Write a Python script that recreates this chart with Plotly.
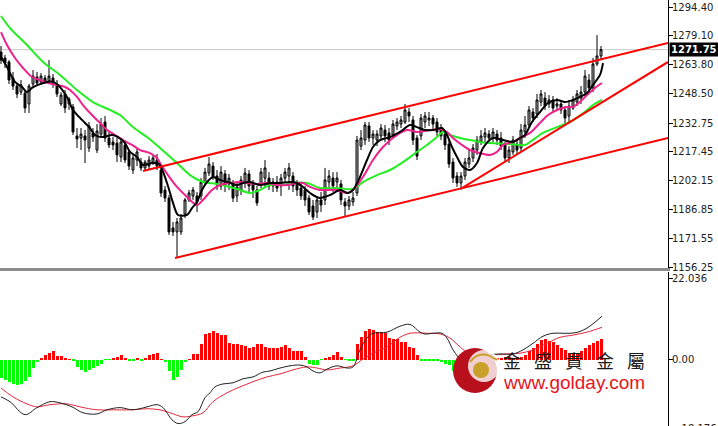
import plotly.graph_objects as go

# ---------------- price candles (index 0..150) ----------------
open_ = [1270.5,1267.3,1265.2,1256.7,1252.4,1249.2,1248.7,1242.9,1253.5,1257.2,
         1254.6,1256.7,1255.1,1256.7,1253.5,1242.9,1248.2,1242.9,1241.3,1225.9,
         1224.8,1225.9,1219.5,1227.5,1218.4,1226.9,1233.3,1224.8,1222.7,1222.1,
         1214.7,1221.1,1217.4,1207.8,1213.1,1212.0,1208.9,1209.9,1212.0,1213.1,
         1207.8,1197.2,1192.9,1177.0,1174.9,1174.9,1184.4,1191.9,1194.0,1194.0,
         1194.0,1200.9,1206.2,1209.9,1204.6,1199.3,1205.7,1200.4,1200.4,1194.0,
         1197.2,1201.4,1205.7,1200.4,1197.2,1200.4,1203.5,1203.5,1199.3,1201.4,
         1199.3,1203.5,1204.6,1204.6,1200.4,1198.2,1197.2,1192.9,1188.7,1185.5,
         1191.9,1191.9,1201.4,1203.5,1201.4,1200.4,1190.8,1188.7,1190.8,1195.6,
         1220.5,1223.7,1231.2,1224.8,1223.7,1225.9,1229.0,1227.5,1226.4,1231.2,
         1232.2,1233.3,1238.6,1234.4,1224.8,1225.9,1233.3,1234.4,1235.4,1233.3,
         1230.1,1226.9,1221.6,1212.0,1204.6,1200.9,1204.6,1211.0,1214.2,1218.4,
         1222.7,1225.3,1226.9,1224.8,1226.9,1224.8,1221.1,1214.2,1217.4,1221.6,
         1219.5,1228.0,1231.7,1238.6,1237.6,1243.9,1246.0,1242.9,1245.0,1241.8,
         1242.9,1239.7,1236.5,1240.7,1243.9,1246.0,1249.2,1255.6,1251.4,1264.1,
         1268.4]
close = [1266.2,1264.6,1255.6,1252.4,1248.2,1253.0,1240.7,1252.4,1257.7,1254.0,
         1257.7,1254.6,1257.7,1253.5,1248.2,1247.6,1240.7,1245.5,1228.0,1224.3,
         1226.9,1223.7,1231.2,1225.3,1228.5,1232.2,1224.8,1221.1,1221.1,1215.8,
         1222.7,1213.1,1209.9,1214.2,1217.4,1208.9,1212.0,1213.1,1214.2,1209.9,
         1195.6,1192.9,1174.9,1174.9,1180.2,1182.3,1191.9,1195.6,1197.2,1190.8,
         1201.4,1206.7,1211.0,1204.1,1199.8,1206.7,1199.8,1203.5,1192.9,1198.8,
         1202.5,1206.2,1199.3,1197.2,1190.3,1206.7,1208.9,1199.3,1201.4,1198.2,
         1203.5,1206.7,1208.9,1199.3,1197.2,1194.0,1191.9,1185.5,1182.8,1191.9,
         1189.2,1202.5,1204.6,1199.3,1203.5,1191.9,1188.7,1191.9,1192.9,1223.7,
         1224.8,1231.7,1224.8,1226.9,1226.9,1230.1,1225.9,1223.7,1232.2,1233.3,
         1234.4,1239.7,1236.5,1223.7,1215.2,1235.4,1236.5,1235.4,1232.2,1228.0,
         1225.9,1221.1,1211.0,1203.5,1200.9,1204.6,1212.0,1214.2,1219.5,1223.7,
         1225.9,1227.5,1224.8,1228.0,1223.7,1220.5,1214.2,1218.4,1223.7,1218.4,
         1229.0,1231.7,1239.7,1235.4,1245.0,1248.2,1241.8,1245.0,1240.7,1242.9,
         1239.7,1235.4,1241.8,1245.0,1248.2,1249.2,1257.7,1251.4,1264.1,1268.4,
         1271.75]
high = [1273.7,1268.9,1266.2,1259.9,1253.5,1255.6,1250.3,1253.5,1260.9,1259.9,
        1259.3,1258.3,1266.2,1258.8,1255.6,1249.2,1250.3,1246.6,1242.9,1230.1,
        1230.1,1229.0,1233.3,1230.1,1232.2,1235.4,1236.5,1228.0,1225.3,1224.8,
        1223.7,1223.7,1218.4,1215.8,1219.5,1214.2,1213.1,1215.2,1215.8,1216.3,
        1208.9,1199.3,1194.5,1180.2,1182.3,1184.4,1192.9,1197.2,1198.8,1196.1,
        1203.5,1208.9,1214.7,1212.0,1207.8,1209.9,1207.8,1205.7,1202.5,1201.4,
        1204.6,1208.9,1207.8,1202.5,1199.3,1208.9,1213.1,1206.7,1203.5,1204.6,
        1205.7,1208.9,1211.5,1206.7,1202.5,1200.4,1199.3,1194.5,1191.9,1194.0,
        1196.1,1208.9,1207.8,1206.7,1206.7,1202.5,1192.9,1194.0,1196.1,1225.9,
        1229.0,1233.3,1233.3,1229.0,1229.0,1232.2,1231.7,1230.1,1234.4,1235.4,
        1236.5,1242.9,1240.7,1236.5,1226.4,1237.6,1238.6,1238.6,1237.0,1235.4,
        1232.2,1229.0,1223.7,1214.2,1206.7,1206.7,1214.2,1218.4,1221.6,1225.9,
        1229.0,1230.1,1229.0,1230.1,1229.0,1228.0,1222.7,1220.5,1225.9,1223.7,
        1232.2,1236.5,1241.8,1240.7,1248.2,1250.3,1249.2,1247.6,1247.1,1246.0,
        1245.0,1241.8,1245.0,1247.1,1250.3,1252.4,1260.9,1258.8,1267.3,1279.5,
        1273.7]
low = [1264.1,1262.0,1253.5,1250.3,1246.0,1247.6,1238.1,1238.1,1251.4,1252.4,
       1253.0,1253.5,1253.5,1251.4,1246.6,1241.8,1238.1,1239.7,1226.4,1219.5,
       1218.4,1211.5,1217.4,1222.7,1216.8,1224.8,1222.7,1219.5,1218.4,1212.0,
       1212.0,1211.5,1207.8,1205.7,1209.9,1207.3,1207.3,1207.8,1210.5,1207.8,
       1193.5,1190.8,1173.3,1172.7,1161.6,1173.3,1182.3,1190.8,1191.9,1185.5,
       1191.9,1199.3,1204.6,1202.5,1197.2,1197.2,1196.1,1197.2,1190.8,1190.8,
       1194.5,1198.2,1196.1,1192.9,1188.7,1198.2,1198.2,1197.2,1196.1,1196.1,
       1194.0,1201.4,1197.2,1196.1,1194.0,1191.9,1188.7,1183.9,1181.2,1182.3,
       1185.5,1189.2,1197.2,1196.1,1197.2,1189.2,1182.8,1186.5,1188.7,1194.0,
       1218.4,1221.1,1222.7,1221.1,1220.5,1223.7,1222.7,1221.1,1224.8,1229.0,
       1230.1,1232.2,1233.3,1221.1,1213.1,1223.7,1230.1,1231.2,1229.0,1225.9,
       1223.7,1218.4,1208.9,1200.9,1198.8,1197.2,1202.5,1208.9,1212.0,1215.8,
       1221.1,1222.7,1222.7,1222.7,1221.1,1218.4,1212.0,1211.5,1215.8,1215.8,
       1217.4,1224.8,1230.1,1233.3,1235.4,1241.8,1239.7,1240.7,1238.6,1239.7,
       1237.6,1232.2,1233.3,1239.7,1241.8,1242.9,1247.1,1249.2,1249.2,1263.0,
       1266.2]
bars = list(range(len(close)))

# ---------------- moving averages ----------------
ma_fast_x = [0,1.5,3.5,5.25,6.5,7.75,9.25,11.5,13,14.25,16.5,18,20.25,22.25,23.5,25.5,27.75,29.25,31,32.25,
             34,35.5,37.75,39.5,41.5,43,44.25,46.5,47.75,49,50.25,51.5,53,54.75,56.75,59,60.5,62.25,64.75,67.25,
             69.75,72.25,74,75.5,77.25,79.5,82.25,84.75,86.75,88,89.75,91.5,93,94.75,97.25,99.75,102.25,104,106,108,
             110.25,111.5,112.75,114,115.5,117.25,119,120.5,123,125.5,128,129.75,131,132.75,134.75,136.75,139,141,143,144.75,
             146.5,148,149.75,150.5]
ma_fast = [1267.8,1262.5,1254.6,1251.9,1249.2,1251.4,1253.0,1254.6,1254.6,1253.0,1246.6,1239.7,1234.4,1230.1,1226.4,
           1225.3,1226.4,1225.3,1222.1,1217.4,1214.7,1210.5,1211.5,1211.0,1200.9,1190.3,1183.9,1183.9,1187.6,1190.8,
           1197.2,1201.4,1204.1,1202.5,1201.4,1199.8,1200.9,1201.4,1199.8,1200.9,1200.9,1201.4,1200.9,1198.8,1195.6,
           1193.0,1194.5,1197.2,1195.6,1197.2,1204.1,1213.1,1220.0,1223.7,1225.3,1228.0,1231.7,1230.6,1229.0,1229.0,
           1230.1,1226.4,1220.0,1214.7,1209.4,1207.8,1211.5,1219.5,1224.8,1223.7,1222.7,1224.8,1226.4,1233.3,1238.6,
           1243.4,1245.0,1243.9,1245.0,1246.6,1248.7,1253.0,1258.3,1264.6]
ma_mid_x = [0,1.5,3.5,5.5,7.75,9.75,11.75,14,16,17.25,19,20.5,22.75,24.75,26.5,28.5,30.5,32.75,34.75,37.25,
            39,39.75,41.75,44,46,49,50.5,52.75,54.75,57.25,59.75,61.5,64,66.5,69,71.5,74,75.5,77.25,79.75,
            84,86.5,88,90.5,93,95.5,99,101.5,104,107.25,109.75,111.5,113,115.25,117.25,119.75,122.25,124,125.5,128,
            129.75,132.25,134.25,136.75,139,141.5,143,144.75,146.5,148.5,150.25]
ma_mid = [1281.1,1274.2,1267.3,1262.0,1257.2,1255.6,1254.0,1253.0,1251.9,1250.3,1246.6,1242.3,1237.0,1232.8,1229.0,
          1226.4,1223.7,1221.1,1218.4,1216.8,1214.2,1211.5,1205.1,1198.8,1194.5,1189.2,1191.9,1197.2,1199.8,1200.9,
          1201.4,1200.9,1200.4,1200.9,1199.8,1199.8,1200.9,1200.9,1198.8,1197.2,1197.2,1195.6,1197.2,1204.1,1213.1,
          1220.0,1226.4,1229.0,1228.0,1229.0,1229.6,1228.0,1224.8,1221.1,1218.4,1216.8,1215.8,1217.4,1221.1,1222.7,
          1224.8,1227.5,1231.7,1237.0,1239.7,1241.3,1241.3,1243.9,1247.6,1251.4,1254.0]
ma_slow_x = [0,2.25,6.5,10.5,14.75,19,23,27.25,29.75,33,36.5,39.75,44,47.25,50.5,54,57.25,59.75,62.25,64.75,
             67.25,70.5,73,76.5,79.75,84,88,90.5,94,97.25,100.5,104,106.5,109,110.5,112.25,114.75,117.25,119.75,122.25,
             127.25,131,132.25,135.5,139,142.25,145.5,148,150.25]
ma_slow = [1289.6,1283.2,1274.2,1265.2,1258.3,1250.3,1243.9,1239.7,1237.0,1230.6,1225.3,1219.5,1211.5,1205.1,1201.4,
           1200.4,1198.8,1197.2,1195.6,1197.2,1199.8,1199.8,1200.9,1200.9,1198.2,1198.2,1197.7,1201.4,1205.1,1207.8,
           1212.0,1217.4,1221.1,1225.3,1228.0,1226.4,1224.8,1223.7,1222.7,1222.1,1221.6,1221.1,1222.7,1227.5,1230.6,
           1233.3,1237.9,1242.3,1245.0]

# ---------------- hand-drawn trend lines (bar index, price) ----------------
upper_x, upper_y = [35.5, 166.75], [1207.3, 1275.3]
lower_x, lower_y = [43.5, 166.75], [1161.0, 1224.8]
steep_x, steep_y = [115.25, 166.75], [1198.2, 1265.2]
last_price = 1271.75

price_ticks = [1294.40, 1279.10, 1263.80, 1248.50, 1232.75, 1217.45, 1202.15, 1186.85, 1171.55, 1156.25]

# ---------------- MACD ----------------
macd_hist = [-5.1,-5.6,-6.2,-6.5,-7.0,-6.5,-5.9,-4.6,-2.4,-0.8,
             0.5,1.2,1.9,2.2,0.9,0.9,0.3,0.1,-0.3,-1.9,
             -2.8,-3.5,-2.8,-2.4,-1.8,-1.1,-0.1,-0.1,0.3,0.8,
             1.3,0.5,-0.5,-0.5,0.3,-0.5,0.3,1.1,1.6,1.9,
             0.1,-0.8,-3.0,-5.4,-4.6,-2.7,-0.8,0.1,1.6,1.6,
             4.3,7.0,7.3,7.8,7.3,6.5,6.5,4.6,4.3,4.3,
             4.0,3.6,3.2,3.4,4.2,4.3,3.5,3.2,3.0,3.1,
             3.5,3.8,3.1,2.2,2.2,2.2,0.7,-1.3,-1.5,-1.6,
             -0.1,0.4,0.8,1.2,2.0,0.7,-0.1,-0.3,-0.3,4.3,
             6.1,7.8,8.3,8.1,7.5,7.4,7.3,5.9,5.6,5.6,
             4.8,4.7,3.4,3.0,1.2,-0.3,-0.3,-0.3,-0.4,-0.5,
             -0.8,-1.1,-1.6,-3.2,-4.8,-6.5,-8.1,-8.6,-7.5,-5.4,
             -3.2,-1.6,-0.5,0.3,0.5,0.5,0.7,0.7,0.5,0.7,
             0.8,1.1,2.2,3.2,4.3,5.2,5.6,5.1,4.7,3.8,
             3.2,2.7,1.9,1.5,1.6,2.2,3.0,3.8,4.6,5.1,
             5.6]
macd_x = [0,2.25,6,9,12.25,14.75,17.75,20.5,24,26.5,29.75,33,36.5,39,40.5,42.75,44.25,46,47.75,49.25,
          51,52.25,53.5,55.5,58,60.5,63,65.5,67.25,69.75,72.25,74.75,76.5,78,79.75,81.5,84,86.5,88,89.75,
          91.5,93,96.5,99.75,102.25,104.75,106,108,110.25,111.5,113,114.25,115.5,118,121.5,124.75,128,130.5,133,135.5,
          138,140.5,142.25,144.25,146.5,148.5,150.25]
macd_line = [-10.1,-11.4,-14.9,-13.0,-11.4,-11.7,-12.8,-14.4,-14.7,-13.6,-13.0,-13.6,-12.8,-12.2,-13.0,
             -16.3,-17.3,-16.8,-14.9,-14.1,-10.3,-9.0,-7.4,-6.6,-6.3,-5.2,-4.7,-3.4,-3.1,-2.3,
             -1.7,-1.5,-2.0,-3.1,-3.6,-2.6,-1.7,-2.3,-2.0,2.6,5.8,7.1,7.4,9.0,9.5,
             7.4,6.9,7.1,7.1,5.8,2.6,0.7,-1.5,-0.1,1.2,1.5,1.5,2.6,4.4,6.3,
             7.1,7.1,7.1,7.4,8.5,10.1,11.7]
signal_x = [0,3,6.5,9,12.25,16.5,19.75,24,28,32.25,36.5,39.75,42.25,45.5,48,50.5,53,56.5,59.75,63,
            66.5,69.75,73,76.5,79,81.5,84.75,88,90.5,93,96.5,99.75,102.25,106.5,109.75,112.25,114.25,116.5,119,122.25,
            126.5,129.75,133,136.5,139.75,143,146.5,150.25]
signal_line = [-7.7,-10.1,-12.0,-12.8,-12.2,-12.0,-12.8,-13.6,-13.6,-13.6,-13.3,-13.6,-14.4,-15.5,-15.2,
               -14.4,-11.4,-9.0,-7.4,-6.0,-4.7,-3.9,-2.8,-2.0,-2.3,-2.8,-2.3,-1.7,0.1,1.7,
               3.4,6.0,7.1,7.1,6.9,5.8,3.9,2.0,1.2,1.2,1.5,1.7,2.6,4.4,6.0,6.6,7.4,8.7]
macd_ticks = [22.036, 0.0]
macd_ticktext = ["22.036", "0.00"]

# watermark text
brand_chars = ["金", "盛", "貴", "金", "屬"]
brand_url = "www.golday.com"

# ---------------- figure ----------------
W, H, PLOT_W = 718, 426, 668
def PX(x):
    return x / PLOT_W
def PY(y):
    return 1 - y / H

fig = go.Figure()

for xs, ys, col in [(ma_slow_x, ma_slow, "#22ee22"), (ma_mid_x, ma_mid, "#f0208c"), (ma_fast_x, ma_fast, "#000000")]:
    fig.add_trace(go.Scatter(x=xs, y=ys, mode="lines", line=dict(color=col, width=2, shape="spline", smoothing=0.8),
                             hoverinfo="skip", xaxis="x", yaxis="y"))

fig.add_trace(go.Candlestick(x=bars, open=open_, high=high, low=low, close=close,
                             increasing=dict(line=dict(color="#000000", width=1), fillcolor="#b4b4b4"),
                             decreasing=dict(line=dict(color="#000000", width=1), fillcolor="#000000"),
                             whiskerwidth=0, hoverinfo="skip", xaxis="x", yaxis="y"))

for xs, ys in [(upper_x, upper_y), (lower_x, lower_y), (steep_x, steep_y)]:
    fig.add_trace(go.Scatter(x=xs, y=ys, mode="lines", line=dict(color="#ff0000", width=2),
                             hoverinfo="skip", xaxis="x", yaxis="y"))

hist_colors = ["#ff0000" if v >= 0 else "#00ff00" for v in macd_hist]
fig.add_trace(go.Bar(x=bars, y=macd_hist, marker=dict(color=hist_colors, line=dict(width=0)), width=0.75,
                     hoverinfo="skip", xaxis="x2", yaxis="y2"))
fig.add_trace(go.Scatter(x=signal_x, y=signal_line, mode="lines", line=dict(color="#e8283c", width=1, shape="spline"),
                         hoverinfo="skip", xaxis="x2", yaxis="y2"))
fig.add_trace(go.Scatter(x=macd_x, y=macd_line, mode="lines", line=dict(color="#222222", width=1, shape="spline"),
                         hoverinfo="skip", xaxis="x2", yaxis="y2"))

xr = [-0.25, 166.75]
tickfont = dict(family="DejaVu Sans", size=10, color="#222222")

shapes = [
    dict(type="line", xref="paper", yref="y", x0=0, x1=1, y0=last_price, y1=last_price,
         line=dict(color="#c8c8c8", width=1), layer="below"),
    dict(type="rect", xref="paper", yref="paper", x0=0, x1=PX(670), y0=PY(271), y1=PY(268),
         fillcolor="#8c8c8c", line=dict(width=0)),
    # watermark logo
    dict(type="circle", xref="paper", yref="paper", x0=PX(453), x1=PX(497), y0=PY(393), y1=PY(348),
         fillcolor="#b8101c", line=dict(width=0), layer="above"),
    dict(type="circle", xref="paper", yref="paper", x0=PX(468), x1=PX(500), y0=PY(382), y1=PY(350),
         fillcolor="rgba(255,255,255,0.8)", line=dict(width=0), layer="above"),
    dict(type="path", xref="paper", yref="paper",
         path="M %f,%f Q %f,%f %f,%f" % (PX(470), PY(362), PX(480), PY(348), PX(497), PY(360)),
         line=dict(color="#c9a02a", width=2), layer="above"),
    dict(type="circle", xref="paper", yref="paper", x0=PX(473), x1=PX(489), y0=PY(378), y1=PY(362),
         fillcolor="#c9a02a", line=dict(width=0), layer="above"),
]

annotations = [
    dict(xref="paper", yref="y", x=PX(669), y=last_price, xanchor="left", yanchor="middle", showarrow=False,
         text="<b>1271.75</b>", bgcolor="#000000", borderpad=1,
         font=dict(family="DejaVu Sans", size=10, color="#ffffff")),
    dict(xref="paper", yref="paper", x=PX(676), y=PY(428), xanchor="left", yanchor="middle", showarrow=False,
         text="-18.176", font=tickfont),
    dict(xref="paper", yref="paper", x=PX(501), y=PY(382), xanchor="left", yanchor="middle", showarrow=False,
         text=brand_url, font=dict(family="Liberation Sans", size=19, color="#e8141c")),
]
for k, ch in enumerate(brand_chars):
    annotations.append(dict(xref="paper", yref="paper", x=PX(512 + 31 * k), y=PY(360), xanchor="center",
                            yanchor="middle", showarrow=False, text=ch,
                            font=dict(family="Noto Sans CJK TC", size=18, color="#1a1a1a")))

fig.update_layout(
    width=W, height=H, margin=dict(l=0, r=W - PLOT_W, t=0, b=0, autoexpand=False),
    paper_bgcolor="#ffffff", plot_bgcolor="#ffffff", showlegend=False,
    xaxis=dict(domain=[0, 1], range=xr, showgrid=False, zeroline=False, showticklabels=False, automargin=False,
               ticks="", rangeslider=dict(visible=False), anchor="y", fixedrange=True),
    yaxis=dict(domain=[PY(268), 1], range=[1155.73, 1298.12], side="right", showgrid=False, zeroline=False,
               tickvals=price_ticks, ticktext=["%.2f" % v for v in price_ticks], ticks="outside", ticklen=4,
               tickcolor="#000000", showline=True, linecolor="#000000", linewidth=1, tickfont=tickfont,
               automargin=False, ticklabelstandoff=-3, anchor="x"),
    xaxis2=dict(domain=[0, 1], range=xr, showgrid=False, zeroline=False, showticklabels=False, ticks="",
                automargin=False, anchor="y2"),
    yaxis2=dict(domain=[0, PY(272)], range=[-17.97, 23.66], side="right", showgrid=False, zeroline=False,
                tickvals=macd_ticks, ticktext=macd_ticktext, ticks="outside", ticklen=4, tickcolor="#000000",
                showline=True, linecolor="#000000", linewidth=1, tickfont=tickfont, automargin=False,
                ticklabelstandoff=-3, anchor="x2"),
    shapes=shapes, annotations=annotations, bargap=0,
)

fig.write_html("out.html", config={"displayModeBar": False},
               post_script="document.body.style.margin='0px';document.body.style.overflow='hidden';")
